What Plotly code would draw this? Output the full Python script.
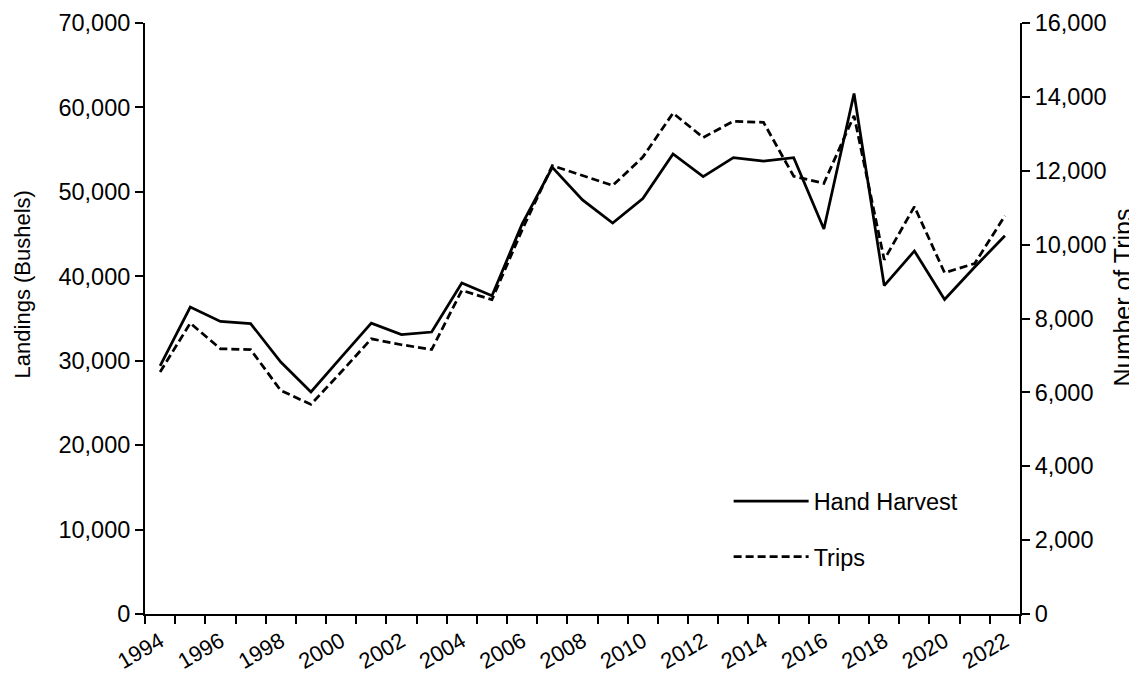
import plotly.graph_objects as go

years = list(range(1994, 2023))
landings = [29400, 36350, 34650, 34400, 29850, 26300, 30400, 34450, 33100, 33400,
            39200, 37700, 46200, 52900, 49050, 46300, 49200, 54500, 51800, 54050,
            53650, 54050, 45600, 61650, 38900, 43000, 37250, 41100, 44800]
trips = [6550, 7875, 7180, 7160, 6050, 5675, 6550, 7450, 7290, 7160,
         8760, 8510, 10400, 12140, 11870, 11600, 12370, 13560, 12900, 13340,
         13310, 11850, 11660, 13490, 9590, 11030, 9240, 9490, 10780]
x_label_years = list(range(1994, 2023, 2))
left_ticks = list(range(0, 70001, 10000))
right_ticks = list(range(0, 16001, 2000))

FONT = "Liberation Sans, Arial, sans-serif"
TICK_SIZE = 23.5

fig = go.Figure()
fig.add_trace(go.Scatter(
    x=years, y=landings, name="Hand Harvest", mode="lines",
    line=dict(color="black", width=2.75), legendgroup="a"))
fig.add_trace(go.Scatter(
    x=years, y=trips, name="Trips", mode="lines", yaxis="y2",
    line=dict(color="black", width=2.75, dash="8px,4px"), legendgroup="b"))

axis_common = dict(showline=True, linecolor="black", linewidth=2,
                   showgrid=False, zeroline=False, automargin=False)

# page body has an 8px default margin, so the figure is sized to fit the window
fig.update_layout(
    width=1129, height=665,
    margin=dict(l=137, r=117, t=15, b=59, autoexpand=False),
    paper_bgcolor="white", plot_bgcolor="white",
    font=dict(family=FONT, size=22, color="black"),
    showlegend=True,
    legend=dict(x=0.667, y=0.228, xanchor="left", yanchor="top",
                bgcolor="rgba(0,0,0,0)", traceorder="grouped",
                tracegroupgap=22, itemwidth=75,
                font=dict(family=FONT, size=TICK_SIZE, color="black")),
    xaxis=dict(range=[1993.5, 2022.5], tickmode="array",
               tickvals=x_label_years, ticktext=[str(y) for y in x_label_years],
               tickangle=-30, ticks="outside", ticklen=4,
               tickcolor="rgba(0,0,0,0)",
               tickfont=dict(family=FONT, size=22, color="black"),
               minor=dict(tickvals=[y - 0.5 for y in years] + [years[-1] + 0.5],
                          ticks="outside", ticklen=8, tickwidth=2,
                          tickcolor="black"),
               **axis_common),
    yaxis=dict(range=[0, 70000], tickmode="array", tickvals=left_ticks,
               tickformat=",", ticks="outside", ticklen=8, tickwidth=2,
               tickcolor="black",
               tickfont=dict(family=FONT, size=TICK_SIZE, color="black"),
               **axis_common),
    yaxis2=dict(range=[0, 16000], tickmode="array", tickvals=right_ticks,
                tickformat=",", ticks="outside", ticklen=8, tickwidth=2,
                tickcolor="black", overlaying="y", side="right",
                tickfont=dict(family=FONT, size=TICK_SIZE, color="black"),
                **axis_common),
    annotations=[
        dict(text="Landings (Bushels)", textangle=-90, xref="paper", yref="paper",
             x=(22 - 145) / 875, y=(613.5 - 284) / 590.8, showarrow=False,
             xanchor="center", yanchor="middle",
             font=dict(family=FONT, size=22, color="black")),
        dict(text="Number of Trips", textangle=-90, xref="paper", yref="paper",
             x=(1123 - 145) / 875, y=(613.5 - 297) / 590.8, showarrow=False,
             xanchor="center", yanchor="middle",
             font=dict(family=FONT, size=25, color="black")),
    ],
)

fig.write_html("out.html")
